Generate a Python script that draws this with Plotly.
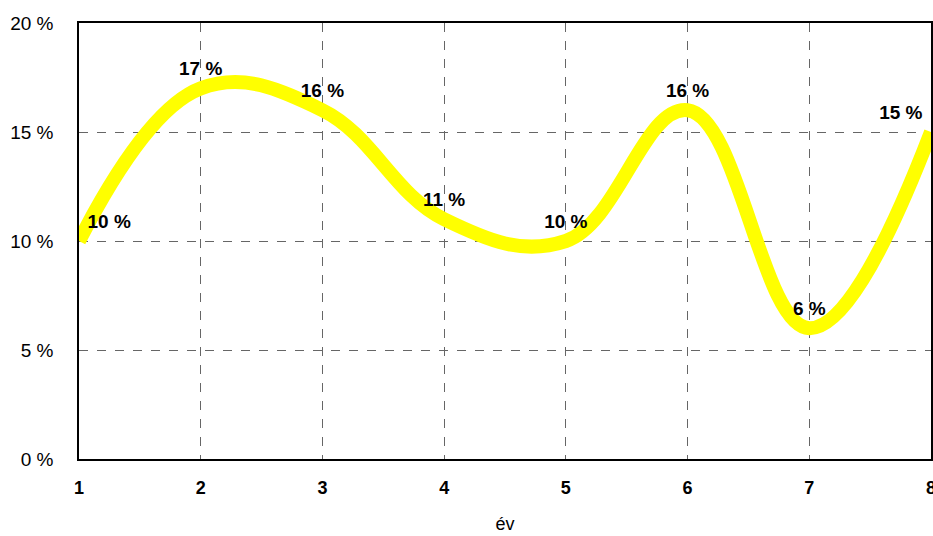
import plotly.graph_objects as go

years = [1, 2, 3, 4, 5, 6, 7, 8]
values = [10, 17, 16, 11, 10, 16, 6, 15]
labels = ["10 %", "17 %", "16 %", "11 %", "10 %", "16 %", "6 %", "15 %"]
y_ticks = [0, 5, 10, 15, 20]
positions = ["top right", "top center", "top center", "top center", "top center",
             "top center", "top center", "top left"]

fig = go.Figure()
fig.add_trace(go.Scatter(
    x=years, y=values, mode="lines",
    line=dict(color="#ffff00", width=14, shape="spline", smoothing=1.15),
    hoverinfo="skip",
))
fig.add_trace(go.Scatter(
    x=years, y=values, mode="markers+text",
    marker=dict(size=12, color="rgba(0,0,0,0)"),
    text=labels, textposition=positions,
    textfont=dict(family="Liberation Sans, Arial", size=19, color="black", weight="bold"),
    hoverinfo="skip", cliponaxis=False,
))

fig.update_layout(
    width=933, height=536,
    margin=dict(l=79, r=2, t=23, b=77, autoexpand=False),
    paper_bgcolor="white", plot_bgcolor="white",
    showlegend=False,
    font=dict(family="Liberation Sans, Arial", color="black"),
)
fig.update_xaxes(
    range=[1, 8], tickvals=years, ticktext=[str(y) for y in years],
    tickfont=dict(size=18, weight="bold"), ticks="outside", ticklen=0,
    ticklabelstandoff=12, automargin=False, ticklabeloverflow="allow",
    showgrid=True, gridcolor="#666666", griddash="dash", gridwidth=1,
    showline=True, linecolor="black", linewidth=1.5, mirror=True,
    zeroline=False,
    title=dict(text="év", font=dict(size=18), standoff=20),
)
fig.update_yaxes(
    range=[0, 20], tickvals=y_ticks, ticktext=[f"{v} %" for v in y_ticks],
    tickfont=dict(size=19), ticks="outside", ticklen=0, ticklabelstandoff=20,
    automargin=False,
    showgrid=True, gridcolor="#666666", griddash="dash", gridwidth=1,
    showline=True, linecolor="black", linewidth=1.5, mirror=True,
    zeroline=False,
)

fig.write_html("out.html", post_script="document.body.style.margin='0';",
               config={"displayModeBar": False})
